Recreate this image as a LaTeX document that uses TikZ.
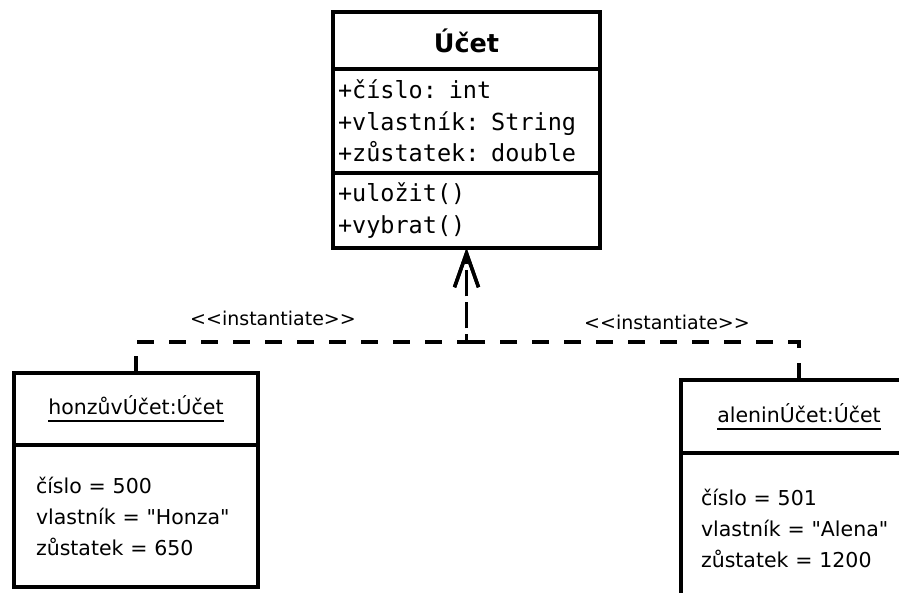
\documentclass[tikz,border=0pt]{standalone}
\usepackage{fontspec}
\setmainfont{DejaVu Sans}[Ligatures=TeXOff]
\newfontfamily\umlmono{DejaVu Sans Mono}
\usetikzlibrary{positioning,arrows.meta}
\newsavebox\ulbox
\newcommand{\objul}[1]{\sbox\ulbox{#1}\rlap{\rule[-7.5pt]{\wd\ulbox}{1.8pt}}\usebox\ulbox}

\begin{document}
\begin{tikzpicture}[x=1pt,y=-1pt,line width=3.5pt,
    part/.style={draw,outer sep=0pt,inner sep=0pt},
    classname/.style={part,minimum width=267pt,
      font=\fontsize{25.5pt}{30pt}\selectfont\bfseries},
    classpart/.style={part,minimum width=267pt,text width=257pt,inner xsep=5pt,
      align=left,font=\umlmono\fontsize{23.5pt}{31.5pt}\selectfont},
    objname/.style={part,minimum width=244pt,minimum height=72pt,
      font=\fontsize{20.5pt}{31pt}\selectfont},
    objpart/.style={part,minimum width=244pt,text width=200pt,inner xsep=22pt,
      align=left,font=\fontsize{20.5pt}{31pt}\selectfont},
    stereo/.style={font=\fontsize{19pt}{22pt}\selectfont},
    instof/.style={dash pattern=on 17pt off 15pt,
      -{Straight Barb[length=34pt,width=24pt]}}]
  \useasboundingbox (0,0) rectangle (899,593);
  \clip (0,0) rectangle (899,593);
  \fill[white] (0,0) rectangle (899,593);

  % class
  \node[classname,minimum height=57pt] (ucet) at (466.5,40.5) {Účet};
  \node[classpart,minimum height=104pt,below=0pt of ucet] (ucet-attr)
    {+číslo: int\\+vlastník: String\\+zůstatek: double};
  \node[classpart,minimum height=75pt,below=0pt of ucet-attr] (ucet-ops)
    {+uložit()\\+vybrat()};

  % instances
  \node[objname] (honz) at (136,409) {\objul{honzůvÚčet:Účet}};
  \node[objpart,minimum height=142pt,below=0pt of honz] (honz-attr)
    {číslo = 500\\vlastník = "Honza"\\zůstatek = 650};
  \node[objname,minimum width=236pt,minimum height=73pt] (alena) at (799,416.5)
    {\objul{aleninÚčet:Účet}};
  \node[objpart,minimum width=236pt,text width=196pt,inner xsep=20pt,
    minimum height=150pt,below=0pt of alena] (alena-attr)
    {číslo = 501\\vlastník = "Alena"\\zůstatek = 1200};

  % dependencies
  \coordinate (junc) at (466.5,342);
  \draw[instof] (honz.north) |- (junc) -- (ucet-ops.south);
  \draw[instof] (alena.north) |- (junc) -- (ucet-ops.south);
  \node[stereo] (lbl-honz) at (273,318) {<<instantiate>>};
  \node[stereo] (lbl-alena) at (667,322) {<<instantiate>>};
\end{tikzpicture}
\end{document}
